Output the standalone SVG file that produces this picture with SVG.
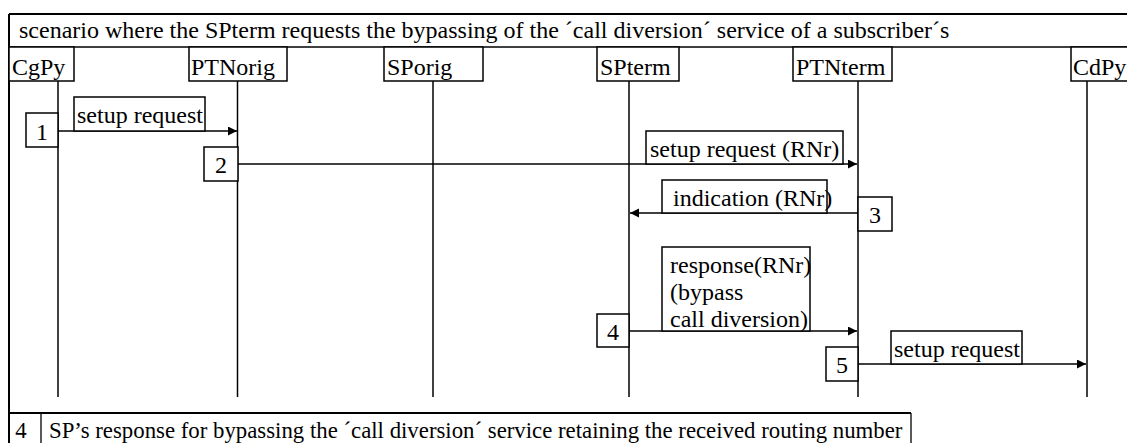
<svg xmlns="http://www.w3.org/2000/svg" width="1127" height="443" viewBox="0 0 1127 443">
<defs>
<style>
text{font-family:"Liberation Serif","Times New Roman",serif;font-size:24px;fill:#000}
.box{fill:#fff;stroke:#000;stroke-width:1.5}
.frame{stroke:#000;stroke-width:2;fill:none}
.thin{stroke:#000;stroke-width:1.3;fill:none}
.life{stroke:#000;stroke-width:1.5}
.msg{stroke:#000;stroke-width:1.5;fill:none;marker-end:url(#ah)}
.num{text-anchor:middle}
.leg{font-size:22.8px}
</style>
<marker id="ah" markerUnits="userSpaceOnUse" markerWidth="10" markerHeight="10" refX="9" refY="4.5" orient="auto">
<path d="M0,0 L9,4.5 L0,9 z" fill="#000"/>
</marker>
</defs>
<rect width="1127" height="443" fill="#fff"/>
<g id="frame">
<line class="frame" x1="9" y1="14" x2="1127" y2="14"/>
<line class="thin" x1="9" y1="47" x2="1127" y2="47"/>
<line class="frame" x1="9" y1="14" x2="9" y2="443"/>
<line class="frame" x1="9" y1="413" x2="911" y2="413"/>
<text x="19" y="38">scenario where the SPterm requests the bypassing of the ´call diversion´ service of a subscriber´s</text>
</g>
<g id="lifelines">
<line class="life" x1="58" y1="81" x2="58" y2="397"/>
<line class="life" x1="237.5" y1="81" x2="237.5" y2="397"/>
<line class="life" x1="433" y1="81" x2="433" y2="397"/>
<line class="life" x1="629" y1="81" x2="629" y2="397"/>
<line class="life" x1="858" y1="81" x2="858" y2="397"/>
<line class="life" x1="1087" y1="81" x2="1087" y2="397"/>
</g>
<g id="node-CgPy"><rect class="box" x="9" y="47" width="65" height="34"/><text x="12" y="75">CgPy</text></g>
<g id="node-PTNorig"><rect class="box" x="189" y="47" width="98" height="34"/><text x="191" y="75">PTNorig</text></g>
<g id="node-SPorig"><rect class="box" x="384" y="47" width="99" height="34"/><text x="387" y="75">SPorig</text></g>
<g id="node-SPterm"><rect class="box" x="597" y="47" width="82" height="34"/><text x="600" y="75">SPterm</text></g>
<g id="node-PTNterm"><rect class="box" x="793" y="47" width="99" height="34"/><text x="796" y="75">PTNterm</text></g>
<g id="node-CdPy"><rect class="box" x="1071" y="47" width="70" height="34"/><text x="1073" y="75">CdPy</text></g>
<g id="connectors">
<line class="msg" x1="58" y1="131" x2="237" y2="131"/>
<line class="msg" x1="238" y1="164" x2="857" y2="164"/>
<line class="msg" x1="858" y1="213" x2="630" y2="213"/>
<line class="msg" x1="629" y1="331" x2="857" y2="331"/>
<line class="msg" x1="858" y1="364" x2="1086" y2="364"/>
</g>
<g id="label-1">
<rect class="box" x="74" y="97" width="131" height="34"/><text x="77" y="123">setup request</text>
<rect class="box" x="26" y="113" width="32" height="34"/><text class="num" x="42" y="140">1</text>
</g>
<g id="label-2">
<rect class="box" x="646" y="131" width="197" height="33"/><text x="650" y="157">setup request (RNr)</text>
<rect class="box" x="204" y="147" width="34" height="34"/><text class="num" x="221" y="173">2</text>
</g>
<g id="label-3">
<rect class="box" x="662" y="180" width="165" height="33"/><text x="673" y="206">indication (RNr)</text>
<rect class="box" x="858" y="197" width="34" height="34"/><text class="num" x="875" y="223">3</text>
</g>
<g id="label-4">
<rect class="box" x="662" y="247" width="148" height="84"/>
<text x="670" y="273">response(RNr)</text>
<text x="670" y="300">(bypass</text>
<text x="670" y="327">call diversion)</text>
<rect class="box" x="597" y="314" width="32" height="33"/><text class="num" x="613" y="340">4</text>
</g>
<g id="label-5">
<rect class="box" x="891" y="331" width="131" height="33"/><text x="894" y="357">setup request</text>
<rect class="box" x="826" y="347" width="32" height="34"/><text class="num" x="842" y="373">5</text>
</g>
<g id="legend">
<line class="thin" x1="41" y1="413" x2="41" y2="443"/>
<line class="thin" x1="911" y1="413" x2="911" y2="443"/>
<text class="num leg" x="21" y="438">4</text>
<text class="leg" x="49" y="438">SP’s response for bypassing the ´call diversion´ service retaining the received routing number</text>
</g>
</svg>
